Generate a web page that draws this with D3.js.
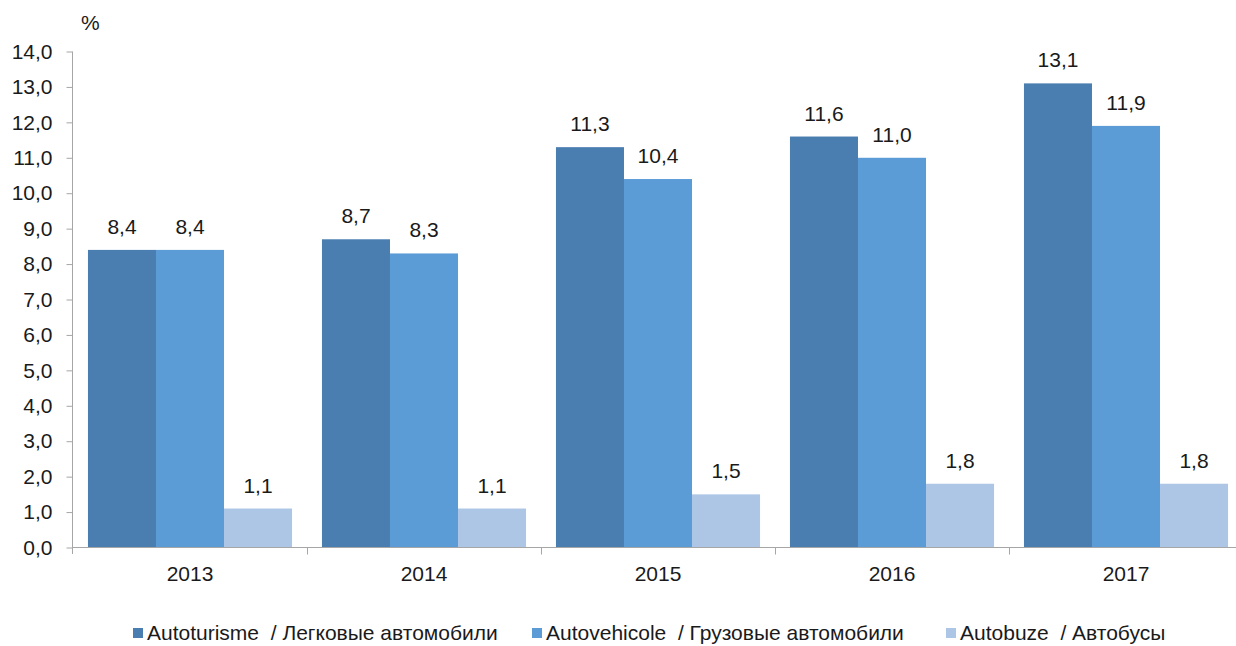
<!DOCTYPE html>
<html>
<head>
<meta charset="utf-8">
<script src="https://cdn.jsdelivr.net/npm/d3@7"></script>
<style>
  body { margin: 0; background: #fff; }
  svg text { font-family: "Liberation Sans", Arial, sans-serif; fill: #1a1a1a; }
</style>
</head>
<body>
<div id="chart"></div>
<script>
var years = ['2013', '2014', '2015', '2016', '2017'];
var seriesNames = ['Autoturisme  / Легковые автомобили', 'Autovehicole  / Грузовые автомобили', 'Autobuze  / Автобусы'];
var cars = [8.4, 8.7, 11.3, 11.6, 13.1];
var trucks = [8.4, 8.3, 10.4, 11.0, 11.9];
var buses = [1.1, 1.1, 1.5, 1.8, 1.8];
var yTicks = [0, 1, 2, 3, 4, 5, 6, 7, 8, 9, 10, 11, 12, 13, 14];
var colors = ['#4a7eb0', '#5b9bd6', '#adc6e6'];

var allSeries = [cars, trucks, buses];
var width = 1236, height = 646;
var fontSize = '21px';
var fmt = function(v) { return d3.format('.1f')(v).replace('.', ','); };

var svg = d3.select('#chart').append('svg')
  .attr('width', width)
  .attr('height', height);

// groups continue past the right edge, as in the original
var x0 = d3.scaleBand().domain(years).range([73, 73 + 5 * 234]).padding(0);
var x1 = d3.scaleBand().domain([0, 1, 2]).range([0, x0.bandwidth()]).paddingInner(0).paddingOuter(0.22);
var y = d3.scaleLinear().domain([0, 14]).range([547.5, 51.5]);

// bars
var groups = svg.selectAll('g.year')
  .data(years)
  .enter().append('g')
  .attr('class', 'year')
  .attr('transform', function(d) { return 'translate(' + x0(d) + ',0)'; });

groups.selectAll('rect')
  .data(function(d, i) { return allSeries.map(function(s, k) { return {k: k, v: s[i]}; }); })
  .enter().append('rect')
  .attr('x', function(d) { return x1(d.k); })
  .attr('width', x1.bandwidth())
  .attr('y', function(d) { return y(d.v); })
  .attr('height', function(d) { return y(0) - y(d.v); })
  .attr('fill', function(d) { return colors[d.k]; });

groups.selectAll('text.lbl')
  .data(function(d, i) { return allSeries.map(function(s, k) { return {k: k, v: s[i]}; }); })
  .enter().append('text')
  .attr('class', 'lbl')
  .attr('x', function(d) { return x1(d.k) + x1.bandwidth() / 2; })
  .attr('y', function(d) { return y(d.v) - 16; })
  .attr('text-anchor', 'middle')
  .style('font-size', fontSize)
  .text(function(d) { return fmt(d.v); });

// y axis
var yAxis = svg.append('g')
  .attr('transform', 'translate(72.5,0)')
  .call(d3.axisLeft(y).tickValues(yTicks).tickSize(6).tickPadding(14).tickFormat(fmt));
yAxis.select('.domain').attr('stroke', '#a6a6a6').attr('d', 'M-0,51.5V554');
yAxis.selectAll('.tick line').attr('stroke', '#a6a6a6');
yAxis.selectAll('.tick text').style('font-size', fontSize).attr('fill', '#1a1a1a');

// x axis
svg.append('line')
  .attr('x1', 72).attr('x2', width)
  .attr('y1', y(0)).attr('y2', y(0))
  .attr('stroke', '#a6a6a6');
svg.selectAll('line.sep')
  .data(years.slice(1))
  .enter().append('line')
  .attr('class', 'sep')
  .attr('x1', function(d) { return Math.round(x0(d)) + 0.5; })
  .attr('x2', function(d) { return Math.round(x0(d)) + 0.5; })
  .attr('y1', y(0)).attr('y2', y(0) + 7)
  .attr('stroke', '#a6a6a6');
svg.selectAll('text.yr')
  .data(years)
  .enter().append('text')
  .attr('class', 'yr')
  .attr('x', function(d) { return x0(d) + x0.bandwidth() / 2; })
  .attr('y', 581)
  .attr('text-anchor', 'middle')
  .style('font-size', fontSize)
  .text(function(d) { return d; });

// unit label
svg.append('text')
  .attr('x', 81).attr('y', 30)
  .style('font-size', fontSize)
  .text('%');

// legend
var legendX = [133, 532, 946];
var legend = svg.selectAll('g.leg')
  .data(seriesNames)
  .enter().append('g')
  .attr('class', 'leg')
  .attr('transform', function(d, i) { return 'translate(' + legendX[i] + ',628)'; });
legend.append('rect')
  .attr('width', 10).attr('height', 10)
  .attr('fill', function(d, i) { return colors[i]; });
legend.append('text')
  .attr('x', 14).attr('y', 12)
  .style('font-size', fontSize)
  .style('white-space', 'pre')
  .text(function(d) { return d; });
</script>
</body>
</html>
